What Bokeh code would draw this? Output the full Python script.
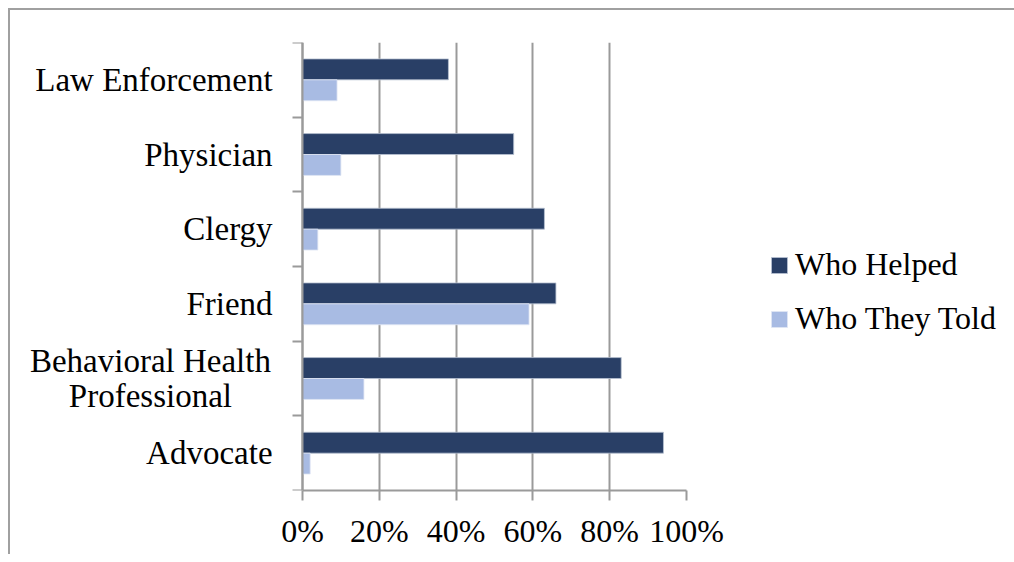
from bokeh.plotting import figure
from bokeh.models import (ColumnDataSource, Range1d, FixedTicker, Legend, LegendItem,
                          LinearAxis)
from bokeh.core.properties import value
from bokeh.transform import dodge
from bokeh.embed import file_html
from bokeh.resources import INLINE

# ---- data (top to bottom as shown) ----
categories = ["Law Enforcement", "Physician", "Clergy", "Friend",
              "Behavioral Health\nProfessional", "Advocate"]
who_helped = [38, 55, 63, 66, 83, 94]
who_they_told = [9, 10, 4, 59, 16, 2]
x_ticks = [0, 20, 40, 60, 80, 100]
x_tick_labels = ["0%", "20%", "40%", "60%", "80%", "100%"]
series_names = ["Who Helped", "Who They Told"]

n = len(categories)
pos = [n - i - 0.5 for i in range(n)]  # category centers, top first
src = ColumnDataSource(dict(y=pos, helped=who_helped, told=who_they_told))

FONT = "Liberation Serif"
GRAY = "#9a9a9a"
DARK = "#293f66"
LIGHT = "#a8bbe3"

# frame spans the label area too; value 0 sits 292px right of frame's left edge
PX_PER_UNIT = 3.84
X_START = -292 / PX_PER_UNIT

p = figure(frame_width=676, frame_height=448, output_backend="svg", toolbar_location=None,
           x_range=Range1d(X_START, 100), y_range=Range1d(0, n),
           y_axis_location=None,
           min_border_left=0, min_border_top=32, min_border_right=318,
           min_border_bottom=64)
p.outline_line_color = None
p.background_fill_color = "white"
p.border_fill_color = "white"
p.styles = {"border-left": "2px solid #a0a0a0", "border-top": "2px solid #a0a0a0",
            "margin-left": "8px", "margin-top": "8px"}

bw = 0.28
r1 = p.hbar(y=dodge("y", bw / 2, range=p.y_range), right="helped", left=0, height=bw,
            source=src, fill_color=DARK, line_color="#b8c2d2", line_width=0.8)
r2 = p.hbar(y=dodge("y", -bw / 2, range=p.y_range), right="told", left=0, height=bw,
            source=src, fill_color=LIGHT, line_color="#dfe6f4", line_width=0.8)

# x axis
xa = p.xaxis[0]
xa.bounds = (0, 100)
xa.ticker = FixedTicker(ticks=x_ticks, minor_ticks=[])
xa.major_label_overrides = {t: l for t, l in zip(x_ticks, x_tick_labels)}
xa.axis_line_color = GRAY
xa.axis_line_width = 2
xa.major_tick_line_color = GRAY
xa.major_tick_line_width = 2
xa.major_tick_out = 10
xa.major_tick_in = 0
xa.major_label_standoff = 12
xa.major_label_text_font = FONT
xa.major_label_text_font_size = "32px"
xa.major_label_text_color = "black"

# y axis at 0%: tick marks at category boundaries
ya = LinearAxis(fixed_location=0, bounds=(0, n),
                ticker=FixedTicker(ticks=[], minor_ticks=list(range(n + 1))))
ya.axis_line_color = GRAY
ya.axis_line_width = 2
ya.major_tick_line_color = None
ya.major_tick_out = 0
ya.major_tick_in = 0
ya.major_label_standoff = 0
ya.minor_tick_out = 10
ya.minor_tick_in = 0
ya.minor_tick_line_color = GRAY
ya.minor_tick_line_width = 2
p.add_layout(ya, "left")

# category names
single = [(c, pv) for c, pv in zip(categories, pos) if "\n" not in c]
multi = [(c, pv) for c, pv in zip(categories, pos) if "\n" in c]
lbl_src1 = ColumnDataSource(dict(x=[-7.8] * len(single), y=[pv for _, pv in single],
                                 t=[c for c, _ in single]))
lbl_src2 = ColumnDataSource(dict(x=[-39.6] * len(multi), y=[pv for _, pv in multi],
                                 t=[c for c, _ in multi]))
for s, al in ((lbl_src1, "right"), (lbl_src2, "center")):
    p.text(x="x", y="y", text="t", source=s, text_align=al, text_baseline="middle",
           text_font=value(FONT), text_font_size="33px", text_color="black",
           text_line_height=0.95)

p.xgrid.ticker = FixedTicker(ticks=x_ticks)
p.xgrid.grid_line_color = GRAY
p.xgrid.grid_line_width = 2
p.ygrid.grid_line_color = None

legend = Legend(items=[LegendItem(label=series_names[0], renderers=[r1]),
                       LegendItem(label=series_names[1], renderers=[r2])],
                location=(83, 153), orientation="vertical",
                glyph_width=20, glyph_height=20, label_height=36, spacing=17,
                label_standoff=6, padding=0, margin=0,
                border_line_color=None, background_fill_alpha=0,
                label_text_font=FONT, label_text_font_size="32px",
                label_text_color="black")
p.add_layout(legend, "right")

open("out.html", "w").write(file_html(p, INLINE))
